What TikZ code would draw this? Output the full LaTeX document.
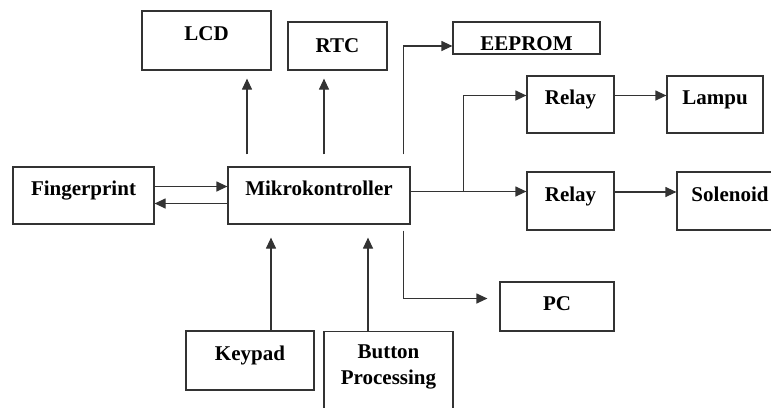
\documentclass[tikz,border=0pt]{standalone}
\usepackage{fontspec}
\setmainfont{Liberation Serif}
\usetikzlibrary{arrows.meta}

\begin{document}
\begin{tikzpicture}[x=1pt, y=-1pt,
		box/.style={draw=black!80, line width=1.2pt, inner sep=0pt,
			text height=8pt, text depth=8pt,
			font=\fontsize{21}{26}\selectfont\bfseries},
		arr/.style={draw=black!80, line width=1.2pt,
			-{Triangle[length=11pt, width=10pt]}}]
		\useasboundingbox (0, 0) rectangle (771, 407);

		\node[box, minimum width=129pt, minimum height=59pt] (lcd) at(206.5, 40.5){LCD};
		\node[box, minimum width=99pt, minimum height=48pt,
			text height=14pt, text depth=2pt] (rtc) at(337.5, 46){RTC};
		\node[box, minimum width=147pt, minimum height=32pt,
			text height=25pt, text depth=0pt] (eeprom) at(526.5, 38){EEPROM};

		\node[box, minimum width=141pt, minimum height=57pt] (fp) at(83.5, 195.5){Fingerprint};
		\node[box, minimum width=182pt, minimum height=57pt] (mcu) at(319, 195.5){Mikrokontroller};

		\node[box, minimum width=87pt, minimum height=57pt] (relaya) at(570.5, 104.5){Relay};
		\node[box, minimum width=96pt, minimum height=57pt] (lampu) at(715, 104.5){Lampu};
		\node[box, minimum width=87pt, minimum height=58pt] (relayb) at(570.5, 201){Relay};
		\node[box, minimum width=106pt, minimum height=58pt] (solenoid) at(730, 201){Solenoid};
		\node[box, minimum width=114pt, minimum height=49pt,
			text height=12pt, text depth=5pt] (pc) at(557, 306.5){PC};

		\node[box, minimum width=128pt, minimum height=59pt] (keypad) at(250, 360.5){Keypad};
		\node[box, minimum width=129pt, anchor=north, align=center,
			text height=53pt, text depth=70pt] (button) at(388.5, 331){Button\\Processing};

		%%%%%%%%%%%%%%%%%%%%%%%%%%%%
		\coordinate (tlcd) at([xshift=-72pt, yshift=12pt]mcu.north);
		\coordinate (trtc) at([xshift=5pt, yshift=12pt]mcu.north);
		\coordinate (trom) at([xshift=-7pt, yshift=12pt]mcu.north east);
		\coordinate (tpc) at([xshift=-7pt, yshift=-6pt]mcu.south east);
		\coordinate (split) at([xshift=53pt, yshift=4pt]mcu.east);

		\draw[arr] (tlcd) to ([yshift=-8pt]tlcd |- lcd.south);
		\draw[arr] (trtc) to ([yshift=-8pt]trtc |- rtc.south);
		\draw[arr] (trom) |- ([yshift=-8pt]eeprom.west);

		\draw[arr] ([yshift=9pt]fp.east) to ([yshift=9pt]mcu.west);
		\draw[arr] ([yshift=-8pt]mcu.west) to ([yshift=-8pt]fp.east);

		\draw[arr] ([yshift=4pt]mcu.east) to ([yshift=4pt]mcu.east -| relayb.west);
		\draw[arr] (split) |- ([yshift=9pt]relaya.west);
		\draw[arr] ([yshift=9pt]relaya.east) to ([yshift=9pt]lampu.west);
		\draw[arr] ([yshift=9pt]relayb.east) to ([yshift=9pt]relayb.east -| solenoid.west);
		\draw[arr] (tpc) |- ([xshift=-12pt, yshift=8pt]pc.west);

		\draw[arr] ([xshift=21pt]keypad.north) to ([xshift=21pt, yshift=-13pt]keypad.north |- mcu.south);
		\draw[arr] ([xshift=-20.5pt]button.north) to ([xshift=-20.5pt, yshift=-13pt]button.north |- mcu.south);
\end{tikzpicture}
\end{document}
